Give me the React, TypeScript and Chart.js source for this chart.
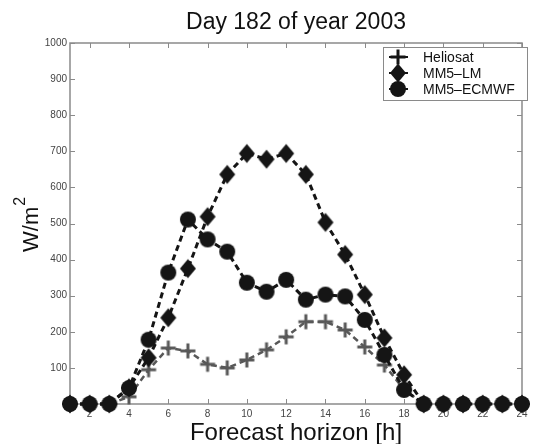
import React, { useEffect, useRef } from "react";
import { Chart, registerables } from "chart.js";

Chart.register(...registerables);

const hours = [1, 2, 3, 4, 5, 6, 7, 8, 9, 10, 11, 12, 13, 14, 15, 16, 17, 18, 19, 20, 21, 22, 23, 24];
const heliosat = [0, 0, 0, 20, 95, 155, 147, 110, 100, 122, 150, 186, 228, 228, 205, 158, 108, 40, 0, 0, 0, 0, 0, 0];
const mm5lm = [0, 0, 0, 45, 128, 239, 375, 519, 636, 694, 678, 694, 636, 503, 414, 303, 183, 81, 0, 0, 0, 0, 0, 0];
const mm5ecmwf = [0, 0, 0, 44, 178, 364, 511, 456, 422, 336, 311, 344, 289, 303, 298, 233, 136, 39, 0, 0, 0, 0, 0, 0];
const xTicks = [2, 4, 6, 8, 10, 12, 14, 16, 18, 20, 22, 24];
const yTicks = [100, 200, 300, 400, 500, 600, 700, 800, 900, 1000];
const seriesNames = ["Heliosat", "MM5\u2013LM", "MM5\u2013ECMWF"];

const FONT = "'Liberation Sans', Arial, Helvetica, sans-serif";
const AXIS_GRAY = "#8a8a8a";
const HELIO_GRAY = "#585858";
const DARK = "#151515";

function drawMarker(ctx: CanvasRenderingContext2D, kind: string, x: number, y: number, color: string) {
  ctx.save();
  ctx.fillStyle = color;
  ctx.strokeStyle = color;
  ctx.setLineDash([]);
  if (kind === "cross") {
    ctx.lineWidth = 3;
    ctx.beginPath();
    ctx.moveTo(x - 7.5, y);
    ctx.lineTo(x + 7.5, y);
    ctx.moveTo(x, y - 7.5);
    ctx.lineTo(x, y + 7.5);
    ctx.stroke();
  } else if (kind === "diamond") {
    ctx.beginPath();
    ctx.moveTo(x, y - 9.5);
    ctx.lineTo(x + 8, y);
    ctx.lineTo(x, y + 9.5);
    ctx.lineTo(x - 8, y);
    ctx.closePath();
    ctx.fill();
  } else {
    ctx.beginPath();
    ctx.arc(x, y, 8, 0, Math.PI * 2);
    ctx.fill();
  }
  ctx.restore();
}

function makeSprite(kind: string, color: string) {
  const c = document.createElement("canvas");
  c.width = 20;
  c.height = 22;
  const g = c.getContext("2d") as CanvasRenderingContext2D;
  drawMarker(g, kind, 10, 11, color);
  return c;
}

const framePlugin = {
  id: "frame",
  beforeDatasetsDraw(chart: any) {
    const { ctx, chartArea } = chart;
    const { left, right, top, bottom } = chartArea;
    const xs = chart.scales.x;
    const ys = chart.scales.y;
    ctx.save();
    ctx.strokeStyle = AXIS_GRAY;
    ctx.lineWidth = 1.5;
    ctx.strokeRect(left, top, right - left, bottom - top);
    ctx.lineWidth = 1;
    ctx.beginPath();
    for (const v of xTicks) {
      const px = Math.round(xs.getPixelForValue(v)) + 0.5;
      ctx.moveTo(px, bottom);
      ctx.lineTo(px, bottom - 5);
      ctx.moveTo(px, top);
      ctx.lineTo(px, top + 5);
    }
    for (const v of yTicks) {
      const py = Math.round(ys.getPixelForValue(v)) + 0.5;
      ctx.moveTo(left, py);
      ctx.lineTo(left + 5, py);
      ctx.moveTo(right, py);
      ctx.lineTo(right - 5, py);
    }
    ctx.stroke();
    ctx.restore();
  },
  afterDraw(chart: any) {
    const { ctx, chartArea } = chart;
    const cx = (chartArea.left + chartArea.right) / 2;
    ctx.save();
    ctx.fillStyle = "#111";
    ctx.textAlign = "center";
    ctx.textBaseline = "alphabetic";
    ctx.font = `23px ${FONT}`;
    ctx.fillText("Day 182 of year 2003", cx, 29);
    ctx.font = `24px ${FONT}`;
    ctx.fillText("Forecast horizon [h]", cx, 440);

    ctx.save();
    ctx.translate(38, 252);
    ctx.rotate(-Math.PI / 2);
    ctx.textAlign = "left";
    ctx.font = `22px ${FONT}`;
    ctx.fillText("W/m", 0, 0);
    const w = ctx.measureText("W/m").width;
    ctx.font = `16px ${FONT}`;
    ctx.fillText("2", w + 1, -13);
    ctx.restore();

    // legend
    const bx = 383, by = 47, bw = 144, bh = 53;
    ctx.fillStyle = "#fff";
    ctx.fillRect(bx, by, bw, bh);
    ctx.strokeStyle = AXIS_GRAY;
    ctx.lineWidth = 1;
    ctx.strokeRect(bx + 0.5, by + 0.5, bw, bh);
    const rows = [57, 73, 89];
    const kinds = ["cross", "diamond", "circle"];
    ctx.textAlign = "left";
    ctx.textBaseline = "middle";
    ctx.font = `14px ${FONT}`;
    rows.forEach((ry, i) => {
      ctx.strokeStyle = DARK;
      ctx.lineWidth = 2;
      ctx.beginPath();
      ctx.moveTo(389, ry);
      ctx.lineTo(408, ry);
      ctx.stroke();
      drawMarker(ctx, kinds[i], 398, ry, DARK);
      ctx.fillStyle = "#111";
      ctx.fillText(seriesNames[i], 423, ry + 1);
    });
    ctx.restore();
  },
};

export default function App() {
  const ref = useRef<HTMLCanvasElement | null>(null);
  useEffect(() => {
    if (!ref.current) return;
    const mk = (xs: number[], ys: number[]) => xs.map((x, i) => ({ x, y: ys[i] }));
    const crossSprite = makeSprite("cross", HELIO_GRAY);
    const diamondSprite = makeSprite("diamond", DARK);
    const circleSprite = makeSprite("circle", DARK);
    const chart = new Chart(ref.current, {
      type: "line",
      data: {
        datasets: [
          {
            label: seriesNames[0],
            data: mk(hours, heliosat),
            borderColor: HELIO_GRAY,
            backgroundColor: HELIO_GRAY,
            borderWidth: 2.5,
            borderDash: [6, 4],
            pointStyle: crossSprite,
            pointRadius: 8,
            clip: false,
            order: 3,
          },
          {
            label: seriesNames[1],
            data: mk(hours, mm5lm),
            borderColor: DARK,
            backgroundColor: DARK,
            borderWidth: 3,
            borderDash: [6, 4],
            pointStyle: diamondSprite,
            pointRadius: 9,
            clip: false,
            order: 2,
          },
          {
            label: seriesNames[2],
            data: mk(hours, mm5ecmwf),
            borderColor: DARK,
            backgroundColor: DARK,
            borderWidth: 3,
            borderDash: [6, 4],
            pointStyle: circleSprite,
            pointRadius: 8,
            clip: false,
            order: 1,
          },
        ],
      },
      options: {
        animation: false,
        responsive: true,
        maintainAspectRatio: false,
        layout: { padding: { left: 0, right: 4, top: 43, bottom: 0 } },
        plugins: { legend: { display: false }, title: { display: false }, tooltip: { enabled: false } },
        elements: { line: { tension: 0 } },
        scales: {
          x: {
            type: "linear",
            min: 1,
            max: 24,
            grid: { display: false, drawTicks: false, tickLength: 0 },
            border: { display: false },
            afterBuildTicks: (s: any) => {
              s.ticks = xTicks.map((v) => ({ value: v }));
            },
            afterFit: (s: any) => {
              s.height = 40;
            },
            ticks: {
              font: { size: 10, family: FONT },
              color: "#444",
              padding: 4,
              maxRotation: 0,
              autoSkip: false,
              callback: (v: any) => String(v),
            },
          },
          y: {
            type: "linear",
            min: 0,
            max: 1000,
            grid: { display: false, drawTicks: false, tickLength: 0 },
            border: { display: false },
            afterBuildTicks: (s: any) => {
              s.ticks = yTicks.map((v) => ({ value: v }));
            },
            afterFit: (s: any) => {
              s.width = 70;
            },
            ticks: {
              font: { size: 10, family: FONT },
              color: "#444",
              padding: 3,
              callback: (v: any) => String(v),
            },
          },
        },
      },
      plugins: [framePlugin],
    } as any);
    return () => chart.destroy();
  }, []);
  return (
    <div style={{ position: "absolute", left: 0, top: 0, width: 534, height: 444, background: "#fff" }}>
      <canvas ref={ref} />
    </div>
  );
}
